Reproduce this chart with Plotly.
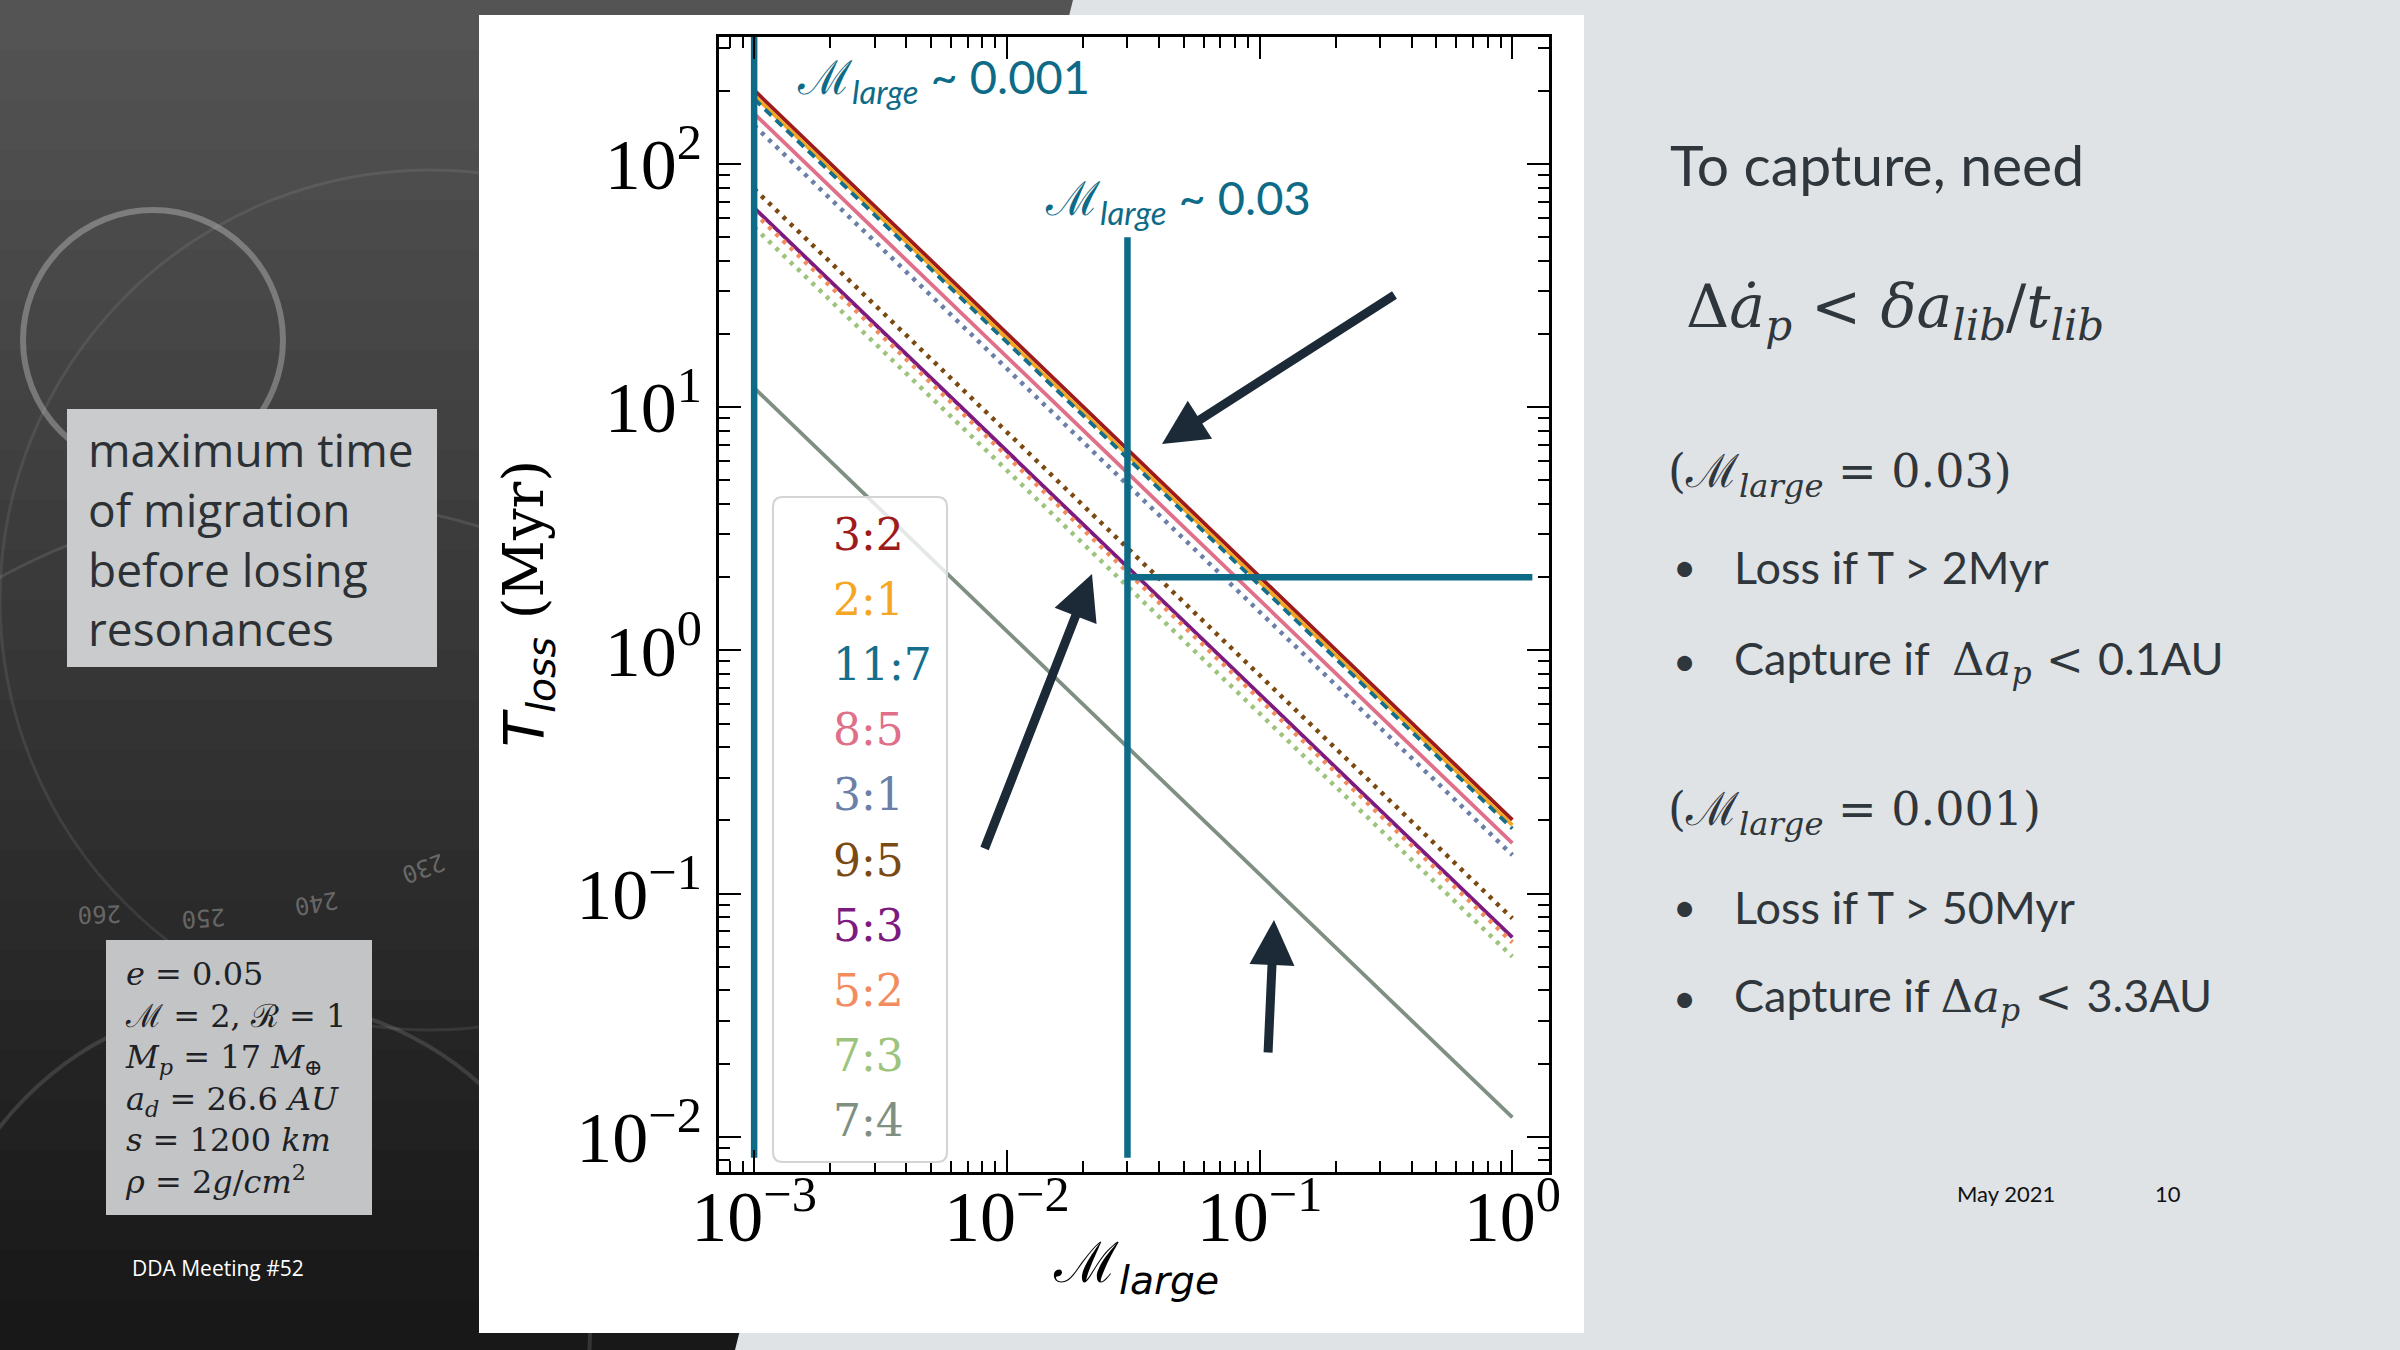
import numpy as np
import plotly.graph_objects as go

W, H = 2400, 1350

# resonances in legend order; T_loss (Myr) read at M_large = 1e-3 and at M_large = 1
resonances = ["3:2", "2:1", "11:7", "8:5", "3:1", "9:5", "5:3", "5:2", "7:3", "7:4"]
res_colors = ["#9e1b1b", "#f5a623", "#156f8c", "#e0708a", "#6b7fa8",
              "#7b4a12", "#7d1a80", "#f28c5e", "#9cc47c", "#7f9083"]
res_dash = ["solid", "solid", "9px,6px", "solid", "4px,6px",
            "4px,6px", "solid", "4px,6px", "4px,6px", "solid"]
m_ends = [1e-3, 1.0]
t_loss_start = [201, 191, 185, 161, 144, 79, 66, 63, 55, 12.0]
t_loss_end = [0.201, 0.191, 0.185, 0.161, 0.144, 0.079, 0.066, 0.063, 0.055, 0.012]

# capture guides
guide_m = [1e-3, 0.03]
guide_top = [1e3, 50]
guide_bottom = 0.0082
loss_time = 2.0
loss_m = [0.03, 1.2]

x_tickvals = [1e-3, 1e-2, 1e-1, 1]
x_ticktext = ["10<sup>−3</sup>", "10<sup>−2</sup>", "10<sup>−1</sup>", "10<sup>0</sup>"]
y_tickvals = [1e-2, 1e-1, 1, 10, 100]
y_ticktext = ["10<sup>−2</sup>", "10<sup>−1</sup>", "10<sup>0</sup>", "10<sup>1</sup>", "10<sup>2</sup>"]

TEAL = "#0e6b87"
INK = "#2f363c"
ARROW = "#1b2a36"


def fx(x):
    return x / W


def fy(y):
    return 1 - y / H


fig = go.Figure()

for name, col, dash, t0, t1 in zip(resonances, res_colors, res_dash, t_loss_start, t_loss_end):
    lw = 4.5 if dash == "4px,6px" else 3.8
    fig.add_trace(go.Scatter(x=m_ends, y=[t0, t1], mode="lines", name=name,
                             line=dict(color=col, width=lw, dash=dash)))

for m, top in zip(guide_m, guide_top):
    fig.add_trace(go.Scatter(x=[m, m], y=[guide_bottom, top], mode="lines",
                             line=dict(color=TEAL, width=6.5)))
fig.add_trace(go.Scatter(x=loss_m, y=[loss_time, loss_time], mode="lines",
                         line=dict(color=TEAL, width=6.5)))

minor_x = [k * 10.0 ** d for d in range(-4, 1) for k in range(2, 10)]
minor_y = [k * 10.0 ** d for d in range(-3, 3) for k in range(2, 10)]

axis_common = dict(type="log", showgrid=False, zeroline=False, showline=True,
                   linecolor="black", linewidth=2.5, mirror="allticks",
                   ticks="inside", ticklen=22, tickwidth=2, tickcolor="black",
                   tickfont=dict(family="Liberation Serif", size=72, color="black"))

fig.update_layout(
    width=W, height=H, autosize=False,
    margin=dict(l=0, r=0, t=0, b=0, autoexpand=False),
    paper_bgcolor="#dfe3e6", plot_bgcolor="rgba(0,0,0,0)",
    showlegend=False,
    font=dict(family="Lato", color=INK),
    xaxis=dict(axis_common, range=[-3.139, 0.145], domain=[fx(719), fx(1549)],
               tickmode="array", tickvals=x_tickvals, ticktext=x_ticktext,
               ticklabelstandoff=-20,
               minor=dict(tickmode="array", tickvals=minor_x, ticks="inside",
                          ticklen=11, tickwidth=1.5, tickcolor="black")),
    yaxis=dict(axis_common, range=[-2.145, 2.522], domain=[fy(1172), fy(37)],
               tickmode="array", tickvals=y_tickvals, ticktext=y_ticktext,
               minor=dict(tickmode="array", tickvals=minor_y, ticks="inside",
                          ticklen=11, tickwidth=1.5, tickcolor="black")),
)

shapes = []
# dark slide background, shaded top to bottom
n_strips = 27
for i in range(n_strips):
    v = int(84 - (84 - 24) * i / (n_strips - 1))
    shapes.append(dict(type="rect", xref="paper", yref="paper", layer="below",
                       x0=0, x1=fx(1080), y0=fy(i * 50 + 52), y1=fy(i * 50),
                       fillcolor=f"rgb({v},{v},{v})", line=dict(width=0)))
# faint decorative circles
for cx, cy, r, a, w in [(153, 340, 130, 0.35, 6), (430, 600, 430, 0.1, 3),
                        (300, 1120, 620, 0.12, 3), (260, 1330, 330, 0.15, 4)]:
    shapes.append(dict(type="circle", xref="paper", yref="paper", layer="below",
                       x0=fx(cx - r), x1=fx(cx + r), y0=fy(cy + r), y1=fy(cy - r),
                       line=dict(color=f"rgba(220,220,220,{a})", width=w)))
# light right side of the slide
shapes.append(dict(type="path", xref="paper", yref="paper", layer="below",
                   path=f"M {fx(1073)},{fy(0)} L {fx(W)},{fy(0)} L {fx(W)},{fy(H)} L {fx(735)},{fy(H)} Z",
                   fillcolor="#dfe3e6", line=dict(width=0)))
# white panel behind the chart
shapes.append(dict(type="rect", xref="paper", yref="paper", layer="below",
                   x0=fx(479), x1=fx(1584), y0=fy(1333), y1=fy(15),
                   fillcolor="white", line=dict(width=0)))
# side boxes
shapes.append(dict(type="rect", xref="paper", yref="paper", layer="below",
                   x0=fx(67), x1=fx(437), y0=fy(667), y1=fy(409),
                   fillcolor="#c9cbcc", line=dict(width=0)))
shapes.append(dict(type="rect", xref="paper", yref="paper", layer="below",
                   x0=fx(106), x1=fx(372), y0=fy(1215), y1=fy(940),
                   fillcolor="#c2c4c5", line=dict(width=0)))
# legend frame (rounded)
lx0, lx1, ly0, ly1, rr = 773, 947, 497, 1162, 10
legend_path = (f"M {fx(lx0 + rr)},{fy(ly0)} L {fx(lx1 - rr)},{fy(ly0)} "
               f"Q {fx(lx1)},{fy(ly0)} {fx(lx1)},{fy(ly0 + rr)} L {fx(lx1)},{fy(ly1 - rr)} "
               f"Q {fx(lx1)},{fy(ly1)} {fx(lx1 - rr)},{fy(ly1)} L {fx(lx0 + rr)},{fy(ly1)} "
               f"Q {fx(lx0)},{fy(ly1)} {fx(lx0)},{fy(ly1 - rr)} L {fx(lx0)},{fy(ly0 + rr)} "
               f"Q {fx(lx0)},{fy(ly0)} {fx(lx0 + rr)},{fy(ly0)} Z")
shapes.append(dict(type="path", xref="paper", yref="paper", layer="above",
                   path=legend_path, fillcolor="rgba(255,255,255,0.8)",
                   line=dict(color="#d4d4d4", width=2)))
fig.update_layout(shapes=shapes)


def note(x, y, text, size, color=INK, family="Lato", xanchor="left", yanchor="middle", **kw):
    fig.add_annotation(x=fx(x), y=fy(y), xref="paper", yref="paper", text=text,
                       showarrow=False, xanchor=xanchor, yanchor=yanchor, align="left",
                       font=dict(family=family, size=size, color=color), **kw)


# legend labels
for i, (name, col) in enumerate(zip(resonances, res_colors)):
    note(831, 534 + i * 65.2, name, 44, color=col, family="DejaVu Serif")

# chart labels
note(795, 80, "ℳ<sub><i>large</i></sub> ~ 0.001", 47, color=TEAL)
note(1043, 200, "ℳ<sub><i>large</i></sub> ~ 0.03", 47, color=TEAL)
note(527, 604, "<span style='font-family:DejaVu Sans'><i>T</i><sub><i>loss</i></sub></span> (Myr)",
     56, color="black", family="DejaVu Serif", xanchor="center", textangle=-90)
note(1136, 1266, "ℳ<sub><span style='font-family:DejaVu Sans'><i>large</i></span></sub>",
     56, color="black", family="DejaVu Serif", xanchor="center")

# arrows (head, tail)
for hx, hy, tx, ty in [(1162, 444, 1396, 294), (1092, 574, 984, 850), (1274, 920, 1268, 1054)]:
    fig.add_annotation(x=fx(hx), y=fy(hy), xref="paper", yref="paper", text="",
                       showarrow=True, ax=tx - hx, ay=ty - hy, arrowhead=2,
                       arrowsize=1.0, arrowwidth=9, arrowcolor=ARROW, standoff=0)

# left side text
note(86, 538, "maximum time<br>of migration<br>before losing<br>resonances", 46,
     color="#2c3136", family="Open Sans")
note(123, 1078,
     "<i>e</i> = 0.05<br>ℳ = 2, ℛ = 1<br><i>M<sub>p</sub></i> = 17 <i>M</i><sub>⊕</sub><br>"
     "<i>a<sub>d</sub></i> = 26.6 <i>AU</i><br><i>s</i> = 1200 <i>km</i><br><i>ρ</i> = 2<i>g</i>/<i>cm</i><sup>2</sup>",
     32, color="#1e2226", family="DejaVu Serif")
note(130, 1268, "DDA Meeting #52", 21, color="white", family="Open Sans")
for x, y, txt, ang in [(100, 914, "260", 178), (204, 918, "250", 176), (317, 903, "240", 170), (424, 868, "230", 160)]:
    note(x, y, txt, 24, color="rgba(255,255,255,0.3)", family="DejaVu Sans Mono",
         xanchor="center", textangle=ang)

# right side text
MATH = "font-family:DejaVu Serif"
note(1668, 164, "To capture, need", 57)
note(1684, 310, f"<span style='{MATH}'>Δ<i>ȧ</i><sub><i>p</i></sub> &lt; <i>δa</i><sub><i>lib</i></sub>/<i>t</i><sub><i>lib</i></sub></span>",
     60)
note(1666, 474, "(ℳ<sub><i>large</i></sub> = 0.03)", 46, family="DejaVu Serif")
note(1666, 812, "(ℳ<sub><i>large</i></sub> = 0.001)", 46, family="DejaVu Serif")
for y, txt in [(567, "Loss if T &gt; 2Myr"),
               (661, f"Capture if  <span style='{MATH}'>Δ<i>a</i><sub><i>p</i></sub> &lt; </span>0.1AU"),
               (907, "Loss if T &gt; 50Myr"),
               (998, f"Capture if <span style='{MATH}'>Δ<i>a</i><sub><i>p</i></sub> &lt; </span>3.3AU")]:
    note(1671, y, "•", 40)
    note(1732, y, txt, 45)
note(1955, 1193, "May 2021", 22, color="#111111")
note(2153, 1193, "10", 22, color="#111111")

fig.write_html("out.html", config={"displayModeBar": False},
               post_script="document.body.style.margin='0';")
